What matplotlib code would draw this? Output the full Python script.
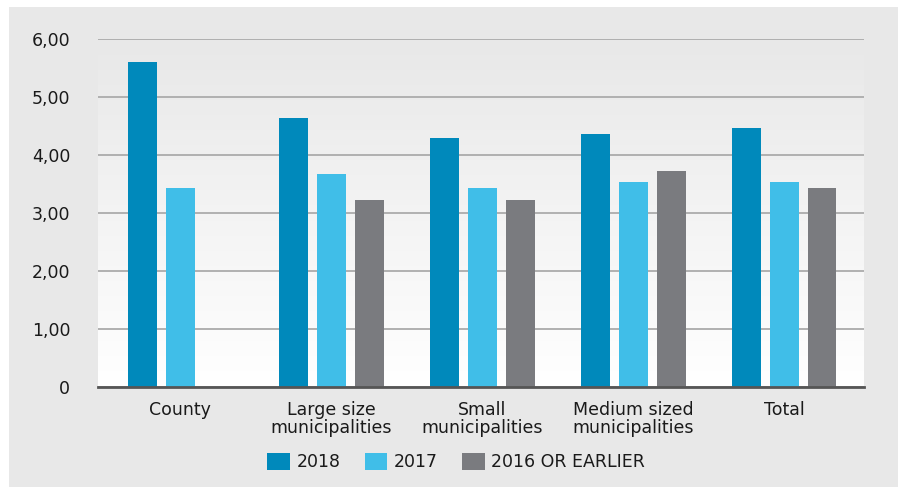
import matplotlib.pyplot as plt
import numpy as np
from matplotlib.colors import LinearSegmentedColormap
from matplotlib.patches import Rectangle
from matplotlib.ticker import FuncFormatter

plt.rcParams["font.family"] = ["DejaVu Sans"]

categories = ["County", "Large size\nmunicipalities", "Small\nmunicipalities",
              "Medium sized\nmunicipalities", "Total"]
series_names = ["2018", "2017", "2016 OR EARLIER"]
v2018 = [5.60, 4.64, 4.29, 4.36, 4.47]
v2017 = [3.43, 3.67, 3.43, 3.53, 3.53]
v2016 = [np.nan, 3.22, 3.22, 3.72, 3.43]
colors = ["#0089bb", "#40bee8", "#7a7b7f"]


def main():
    fig = plt.figure(figsize=(8.98, 4.88), dpi=100, facecolor="white")
    # grey card behind the chart
    fig.patches.append(Rectangle((9 / 898, 1 / 488), 1, 480 / 488,
                                 transform=fig.transFigure, facecolor="#e8e8e8",
                                 edgecolor="none", zorder=-10))

    ax = fig.add_axes([98 / 898, 1 - 387 / 488, 766 / 898, 348 / 488])
    ax.set_facecolor("none")

    xlo, xhi = -0.546, 4.53
    # vertical gradient in the plot area (grey top -> white bottom)
    grad = np.linspace(0, 1, 256).reshape(-1, 1)
    ax.imshow(grad, extent=[xlo, xhi, 0, 6], aspect="auto", origin="upper",
              cmap=LinearSegmentedColormap.from_list("bg", ["#e8e8e8", "#ffffff"]),
              zorder=0)

    x = np.arange(len(categories))
    w = 0.192
    step = 0.2517
    for k, (vals, name) in enumerate(zip([v2018, v2017, v2016], series_names)):
        ax.bar(x + (k - 1) * step, vals, width=w, color=colors[k],
               label=name, zorder=3)

    ax.set_xlim(xlo, xhi)
    ax.set_ylim(0, 6)
    ax.set_yticks(np.arange(0, 7, 1))
    ax.yaxis.set_major_formatter(FuncFormatter(
        lambda v, p: "0" if v == 0 else f"{v:.2f}".replace(".", ",")))
    ax.set_xticks(x)
    ax.set_xticklabels(categories, linespacing=1.0)
    ax.tick_params(axis="both", length=0, labelsize=12.5, colors="#1a1a1a")
    ax.tick_params(axis="y", pad=20)
    ax.tick_params(axis="x", pad=10)

    ax.grid(axis="y", color="#ababab", linewidth=1.3, zorder=1)
    for s in ["top", "right", "left"]:
        ax.spines[s].set_visible(False)
    ax.spines["bottom"].set_color("#555555")
    ax.spines["bottom"].set_linewidth(2)
    ax.spines["bottom"].set_zorder(4)

    fig.legend(loc="center", bbox_to_anchor=(456 / 898, 1 - 462 / 488),
               ncol=3, frameon=False, fontsize=12.5, handlelength=1.32,
               handleheight=1.15, handletextpad=0.35, columnspacing=1.4,
               labelcolor="#1a1a1a")

    fig.savefig("out.png", dpi=100, facecolor="white")


if __name__ == "__main__":
    main()
